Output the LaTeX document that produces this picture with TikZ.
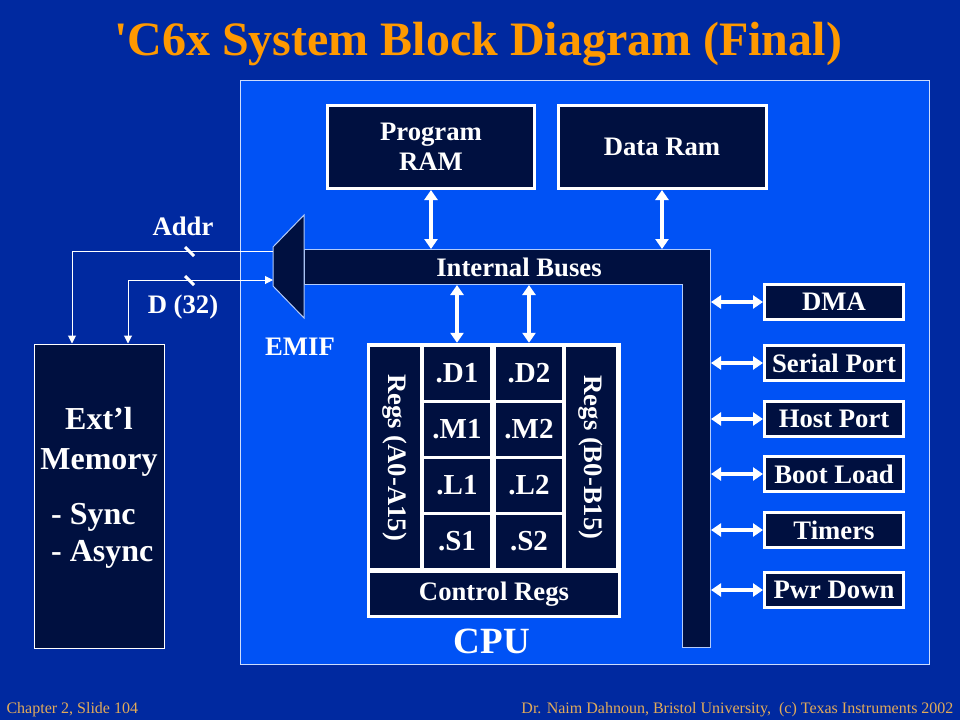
\documentclass[tikz,border=0pt]{standalone}
\usepackage{fontspec}
\newfontfamily\slidefont{Liberation Serif}
\usetikzlibrary{arrows.meta, positioning}
\definecolor{slidebg}{RGB}{0,41,160}
\definecolor{panelblue}{RGB}{0,82,245}
\definecolor{navy}{RGB}{0,16,64}
\definecolor{titleorange}{RGB}{255,153,0}
\definecolor{foottan}{RGB}{225,170,90}

\begin{document}
\begin{tikzpicture}[x=1pt, y=-1pt,
    every node/.style={font=\slidefont\bfseries\fontsize{26.7}{30}\selectfont, text=white},
    box/.style={draw=white, line width=3pt, fill=navy, inner sep=0pt, align=center},
    periph/.style={box, minimum width=139pt, minimum height=35pt},
    unit/.style={fill=navy, inner sep=0pt, minimum width=66pt, minimum height=53pt,
        font=\slidefont\bfseries\fontsize{29}{30}\selectfont},
    bigarrow/.style={white, line width=3.5pt, {Triangle[width=13pt,length=10pt]}-{Triangle[width=13pt,length=10pt]}},
    wire/.style={white, line width=1pt},
    busline/.style={draw=white!70!panelblue, line width=1pt, fill=navy}]
    % slide and panel
    \fill[slidebg] (0,0) rectangle (960,720);
    \useasboundingbox (0,0) rectangle (960,720);
    \draw[draw=white!80!panelblue, line width=1pt, fill=panelblue] (240,80) rectangle (929,664);
    \node[font=\slidefont\bfseries\fontsize{48}{50}\selectfont, text=titleorange] (title) at (478,44) {'C6x System Block Diagram (Final)};

    % memories
    \node[box, minimum width=207pt, minimum height=83pt] (pram) at (431,147) {Program\\RAM};
    \node[box, minimum width=208pt, minimum height=83pt] (dram) at (662,147) {Data Ram};

    % internal buses and EMIF
    \draw[busline] (304,249) -- (710,249) -- (710,647) -- (682,647) -- (682,284) -- (304,284) -- cycle;
    \coordinate (bustop) at (0,249);
    \coordinate (busbot) at (0,285);
    \coordinate (busright) at (711,0);
    \node (buslabel) at (519,267) {Internal Buses};
    \draw[busline] (273,247) -- (304,215) -- (304,318) -- (273,286) -- cycle;
    \coordinate (emifaddr) at (273,251);
    \coordinate (emifdata) at (273,280);
    \node (emif) at (300,347) {EMIF};

    \draw[bigarrow] (pram.south) -- (pram.south |- bustop);
    \draw[bigarrow] (dram.south) -- (dram.south |- bustop);

    % external memory
    \node[draw=white, line width=1pt, fill=navy, minimum width=130pt, minimum height=304pt] (extmem) at (99.5,496) {};
    \node[font=\slidefont\bfseries\fontsize{32}{40}\selectfont, align=center] (extlabel) at (99,442) {Ext’l\\Memory};
    \node[font=\slidefont\bfseries\fontsize{32}{37}\selectfont, align=left, anchor=west, inner sep=0pt] (extkind) at (51,536) {- Sync\\- Async};

    \draw[wire, -{Triangle[width=8pt,length=8pt]}] (emifaddr) -| ([xshift=-27.5pt]extmem.north);
    \draw[wire, {Triangle[width=8pt,length=8pt]}-{Triangle[width=8pt,length=8pt]}] ([xshift=28.5pt]extmem.north) |- (emifdata);
    \draw[white, line width=3pt] (185,247) -- (194,256);
    \draw[white, line width=3pt] (185,276) -- (194,285);
    \node (addr) at (183,226) {Addr};
    \node (data) at (183,307) {D (32)};

    % CPU
    \node[fill=white, minimum width=254pt, minimum height=275pt] (cpu) at (494,480.5) {};
    \node[unit, minimum width=221pt, minimum height=50pt, rotate=-90, font=\slidefont\bfseries\fontsize{26.7}{30}\selectfont] (rega) at (395,457.5) {Regs (A0-A15)};
    \node[unit, minimum width=221pt, minimum height=50pt, rotate=-90, font=\slidefont\bfseries\fontsize{26.7}{30}\selectfont] (regb) at (591,457.5) {Regs (B0-B15)};
    \foreach \u [count=\i] in {D,M,L,S} {
        \node[unit] (\u1) at (457,317.5+56*\i) {.\u1};
        \node[unit] (\u2) at (529,317.5+56*\i) {.\u2};
    }
    \node[unit, minimum width=248pt, minimum height=42pt, font=\slidefont\bfseries\fontsize{26.7}{30}\selectfont] (ctrl) at (494,594) {Control Regs};
    \node[font=\slidefont\bfseries\fontsize{37}{40}\selectfont] (cpulabel) at (492,641) {CPU};

    \draw[bigarrow] (D1.north |- busbot) -- (D1.north |- cpu.north);
    \draw[bigarrow] (D2.north |- busbot) -- (D2.north |- cpu.north);

    % peripherals
    \foreach \name/\txt/\y in {dma/DMA/302, serial/Serial Port/363, host/Host Port/419,
        boot/Boot Load/474, timers/Timers/530, pwr/Pwr Down/590} {
        \node[periph] (\name) at (834,\y) {\txt};
        \draw[bigarrow] (\name.west -| busright) -- (\name.west);
    }

    % footer
    \node[font=\slidefont\fontsize{16}{18}\selectfont, text=foottan, anchor=west] (footleft) at (3,710) {Chapter 2, Slide 104};
    \node[font=\slidefont\fontsize{16}{18}\selectfont, text=foottan, anchor=east] (footright) at (957,710) {Dr. Naim Dahnoun, Bristol University,\ \ (c) Texas Instruments 2002};
\end{tikzpicture}
\end{document}
